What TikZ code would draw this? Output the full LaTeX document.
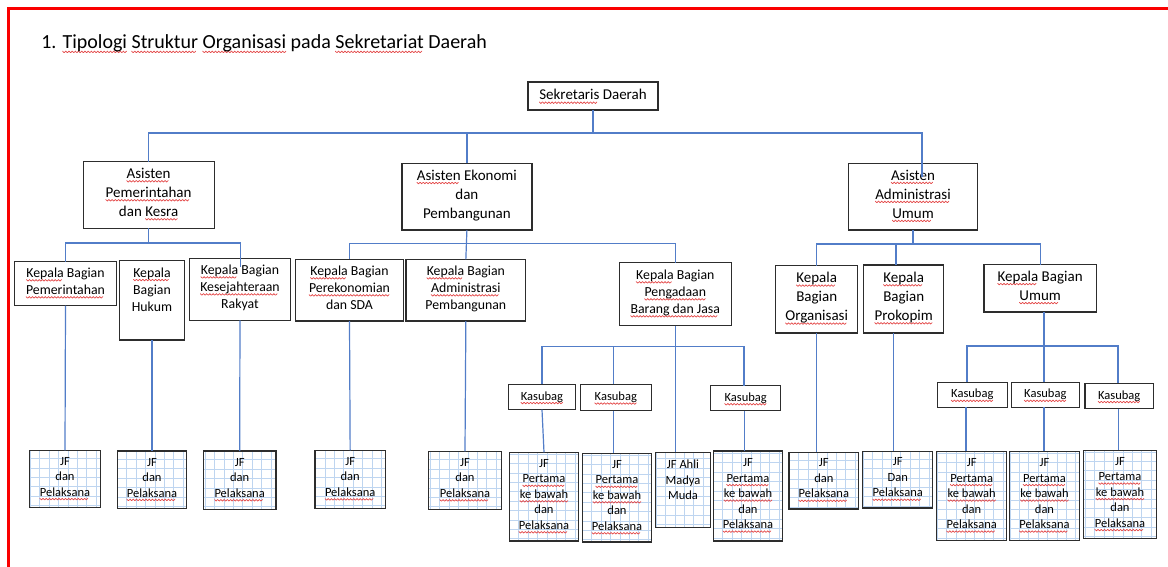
\documentclass[tikz,border=0pt]{standalone}
\usepackage{fontspec}
\setmainfont{Carlito}
\definecolor{spellred}{RGB}{228,70,70}
\definecolor{boxc}{RGB}{45,45,45}
\definecolor{linec}{RGB}{82,125,200}
\definecolor{gridc}{RGB}{190,213,240}
\definecolor{bordred}{RGB}{250,0,0}
\newsavebox\swbox
\newcommand\sw[1]{\leavevmode\sbox\swbox{#1}%
  \rlap{\begin{pgfpicture}%
    \pgfsetstrokecolor{spellred}\pgfsetlinewidth{0.7pt}\pgfsetroundcap\pgfsetroundjoin\pgfsetdash{}{0pt}%
    \pgfmathtruncatemacro\nwv{\wd\swbox/3.2}%
    \ifnum\nwv>0
    \foreach \k in {1,...,\nwv}{%
      \pgfpathmoveto{\pgfpoint{(\k-1)*3.2pt}{-2.2pt}}%
      \pgfpathlineto{\pgfpoint{(\k-0.5)*3.2pt}{-3.7pt}}%
      \pgfpathlineto{\pgfpoint{\k*3.2pt}{-2.2pt}}%
      \pgfusepath{stroke}}%
    \fi
    \pgfresetboundingbox\pgfpathrectangle{\pgfpointorigin}{\pgfpointorigin}\pgfusepath{use as bounding box}%
  \end{pgfpicture}}%
  \usebox\swbox}
\newcommand\fA{\fontsize{15}{19}\selectfont}
\newcommand\fB{\fontsize{13.8}{17}\selectfont}
\newcommand\fC{\fontsize{12.5}{15.5}\selectfont}
\newcommand\fT{\fontsize{20}{24}\selectfont}
\tikzset{
  bx/.style={draw=boxc, line width=1.2pt, fill=white, inner sep=0pt, outer sep=0pt,
    align=center, text=black, execute at begin node=\strut, execute at end node=\strut},
  jfbox/.style={bx, font=\fC, path picture={\draw[gridc, line width=0.8pt, step=9.4pt]
    (path picture bounding box.south west) grid (path picture bounding box.north east);}},
  ln/.style={draw=linec, line width=1.2pt},
}
\begin{document}
\begin{tikzpicture}[x=1pt,y=-1pt]
\useasboundingbox (0,0) rectangle (1168,567);
\fill[white] (0,0) rectangle (1168,567);
% red page border
\draw[bordred, line width=3.3pt] (1175,8.3) -- (8.3,8.3) -- (8.3,575);
% title
\node[anchor=base west, inner sep=0pt, font=\fT] (title) at (41,49)
  {1. \sw{Tipologi} \sw{Struktur} \sw{Organisasi} pada \sw{Sekretariat} Daerah};
% level 0/1
\node[bx, font=\fA, minimum width=130, minimum height=28] (sd) at (593,96) {\sw{Sekretaris} Daerah};
\node[bx, font=\fA, minimum width=131, minimum height=66.6] (ap) at (148.6,195) {\sw{Asisten}\\\sw{Pemerintahan}\\dan \sw{Kesra}};
\node[bx, font=\fA, minimum width=130, minimum height=66.7] (ae) at (466.9,196.7) {\sw{Asisten} Ekonomi\\dan\\Pembangunan};
\node[bx, font=\fA, minimum width=129.5, minimum height=66.7] (aa) at (913,196.7) {\sw{Asisten}\\\sw{Administrasi}\\\sw{Umum}};
% level 2
\node[bx, font=\fB, minimum width=102.4, minimum height=44] (kpem) at (65.5,283.7) {\sw{Kepala} Bagian\\\sw{Pemerintahan}};
\node[bx, font=\fB, minimum width=64.6, minimum height=79.3] (khuk) at (152,300.35) {\sw{Kepala}\\Bagian\\Hukum\\};
\node[bx, font=\fB, minimum width=101.4, minimum height=62] (kkes) at (240,289.3) {\sw{Kepala} Bagian\\\sw{Kesejahteraan}\\Rakyat};
\node[bx, font=\fB, minimum width=107.6, minimum height=61.7] (kper) at (349.5,290.2) {\sw{Kepala} Bagian\\\sw{Perekonomian}\\dan SDA};
\node[bx, font=\fB, minimum width=119.7, minimum height=61.7] (kadm) at (465.85,290.2) {\sw{Kepala} Bagian\\\sw{Administrasi}\\Pembangunan};
\node[bx, font=\fB, minimum width=112, minimum height=63] (kpbj) at (675.3,294.2) {\sw{Kepala} Bagian\\\sw{Pengadaan}\\\sw{Barang dan Jasa}};
\node[bx, font=\fA, minimum width=82, minimum height=67.3] (korg) at (816.7,299.35) {\sw{Kepala}\\Bagian\\\sw{Organisasi}};
\node[bx, font=\fA, minimum width=80, minimum height=68] (kpro) at (903.7,299) {\sw{Kepala}\\Bagian\\\sw{Prokopim}};
\node[bx, font=\fA, minimum width=112.3, minimum height=47.3] (kumu) at (1040.15,288.35) {\sw{Kepala} Bagian\\\sw{Umum}};
% kasubag
\node[bx, font=\fC, minimum width=67.4, minimum height=25.4] (s1) at (542,397) {\sw{Kasubag}};
\node[bx, font=\fC, minimum width=71, minimum height=26.4] (s2) at (615.8,397.5) {\sw{Kasubag}};
\node[bx, font=\fC, minimum width=70, minimum height=25] (s3) at (745.7,398.2) {\sw{Kasubag}};
\node[bx, font=\fC, minimum width=70, minimum height=25] (s4) at (972.3,394.8) {\sw{Kasubag}};
\node[bx, font=\fC, minimum width=68, minimum height=25] (s5) at (1045.3,394.8) {\sw{Kasubag}};
\node[bx, font=\fC, minimum width=68.3, minimum height=25.4] (s6) at (1119.15,396) {\sw{Kasubag}};
% JF boxes
\node[jfbox, minimum width=71.4, minimum height=57.4] (j1) at (65,479) {JF\\dan\\\sw{Pelaksana}};
\node[jfbox, minimum width=69.4, minimum height=57.7] (j2) at (152,479.85) {JF\\dan\\\sw{Pelaksana}};
\node[jfbox, minimum width=72.7, minimum height=58.3] (j3) at (239.65,480.15) {JF\\dan\\\sw{Pelaksana}};
\node[jfbox, minimum width=70.3, minimum height=58] (j4) at (350.15,479.3) {JF\\dan\\\sw{Pelaksana}};
\node[jfbox, minimum width=73.4, minimum height=58] (j5) at (465,480.3) {JF\\dan\\\sw{Pelaksana}};
\node[jfbox, minimum width=69.4, minimum height=88.7] (j6) at (544,496.65) {JF\\\sw{Pertama}\\\sw{ke bawah}\\dan\\\sw{Pelaksana}};
\node[jfbox, minimum width=69.4, minimum height=88.7] (j7) at (617,497.65) {JF\\\sw{Pertama}\\\sw{ke bawah}\\dan\\\sw{Pelaksana}};
\node[jfbox, minimum width=55.4, minimum height=75] (j8) at (683,489.8) {JF Ahli\\Madya\\Muda\\};
\node[jfbox, minimum width=69.4, minimum height=90] (j9) at (748,496) {JF\\\sw{Pertama}\\\sw{ke bawah}\\dan\\\sw{Pelaksana}};
\node[jfbox, minimum width=69.7, minimum height=56.7] (j10) at (823.85,480.65) {JF\\dan\\\sw{Pelaksana}};
\node[jfbox, minimum width=70, minimum height=56.7] (j11) at (897.7,479.65) {JF\\Dan\\\sw{Pelaksana}};
\node[jfbox, minimum width=70, minimum height=89.4] (j12) at (971.7,496) {JF\\\sw{Pertama}\\\sw{ke bawah}\\dan\\\sw{Pelaksana}};
\node[jfbox, minimum width=69.6, minimum height=89.4] (j13) at (1044.5,496) {JF\\\sw{Pertama}\\\sw{ke bawah}\\dan\\\sw{Pelaksana}};
\node[jfbox, minimum width=72.6, minimum height=88.4] (j14) at (1120,494.5) {JF\\\sw{Pertama}\\\sw{ke bawah}\\dan\\\sw{Pelaksana}};
% helper coordinates
\coordinate (b0l) at (148,133); \coordinate (b0r) at (922,133); \coordinate (aain) at (922,177);
\coordinate (b1r) at (240.7,243); \coordinate (kesin) at (240.7,267);
\coordinate (b2r) at (675.3,243.5);
\coordinate (b3l) at (541.7,346.7); \coordinate (b3r) at (744,346.7);
\coordinate (xs2) at (613.3,0); \coordinate (xs3) at (744.3,0);
\coordinate (b4l) at (817,244); \coordinate (b4r) at (1040.15,244);
\coordinate (xpro) at (896,0); \coordinate (xpro2) at (893.3,0);
\coordinate (xu) at (1044,0); \coordinate (b5l) at (967,346); \coordinate (b5r) at (1118,346);
\coordinate (x4) at (966,0); \coordinate (x6) at (1118.3,0);
% connectors level 1
\draw[ln] (sd.south) -- (sd.south |- b0l);
\draw[ln] (ap.north) |- (b0r) -- (aain);
\draw[ln] (ae.north) -- (ae.north |- b0l);
% AP group
\draw[ln] (ap.south) -- (ap.south |- b1r);
\draw[ln] (kpem.north) |- (b1r) -- (kesin);
\draw[ln] (kpem.south) -- (j1.north);
\draw[ln] (khuk.south) -- (j2.north);
\draw[ln] (kkes.south) -- (j3.north);
% AE group
\draw[ln] (ae.south) -- (kadm.north);
\draw[ln] (kper.north) |- (b2r) -- (kpbj.north);
\draw[ln] (kper.south) -- (j4.north);
\draw[ln] (kadm.south) -- (j5.north);
% Pengadaan
\draw[ln] (kpbj.south) -- (kpbj.south |- j8.north);
\draw[ln] (s1.north) |- (b3r) -- (s3.north -| b3r);
\draw[ln] (s2.north -| xs2) -- (b3l -| xs2);
\draw[ln] (s1.south) -- (j6.north);
\draw[ln] (s2.south -| xs2) -- (j7.north -| xs2);
\draw[ln] (s3.south -| xs3) -- (j9.north -| xs3);
% AA group
\draw[ln] (aa.south) -- (aa.south |- b4l);
\draw[ln] (korg.north) |- (b4r) -- (kumu.north);
\draw[ln] (kpro.north -| xpro) -- (b4l -| xpro);
\draw[ln] (korg.south) -- (korg.south |- j10.north);
\draw[ln] (kpro.south -| xpro2) -- (j11.north -| xpro2);
% Umum
\draw[ln] (kumu.south -| xu) -- (s5.north -| xu);
\draw[ln] (s4.north -| b5l) |- (b5r) -- (s6.north -| b5r);
\draw[ln] (s4.south -| x4) -- (j12.north -| x4);
\draw[ln] (s5.south -| xu) -- (j13.north -| xu);
\draw[ln] (s6.south -| x6) -- (j14.north -| x6);
\end{tikzpicture}
\end{document}
